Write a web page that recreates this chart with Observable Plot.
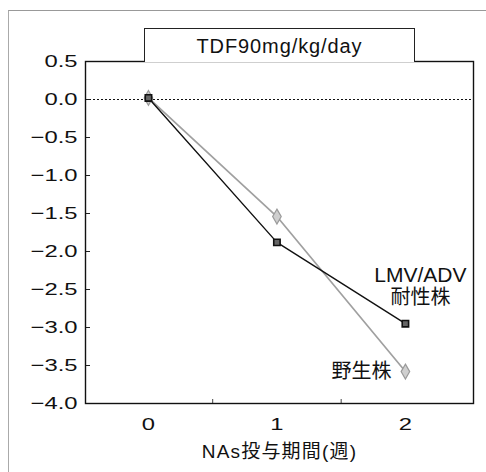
<!DOCTYPE html>
<html><head><meta charset="utf-8">
<script src="https://cdn.jsdelivr.net/npm/d3@7"></script>
<script src="https://cdn.jsdelivr.net/npm/@observablehq/plot@0.6"></script>
<style>
html,body{margin:0;padding:0;background:#fff;}
#wrap{position:relative;width:486px;height:472px;overflow:hidden;font-family:"Liberation Sans",Arial,sans-serif;}
#outer{position:absolute;left:8px;top:10px;width:490px;height:470px;border-top:1px solid #999;border-left:1px solid #aaa;}
#title{position:absolute;left:144px;top:28px;width:269px;height:33px;border:1px solid #222;border-bottom:none;text-align:center;line-height:34px;font-size:20px;letter-spacing:0.9px;color:#111;background:#fff;}
#chart{position:absolute;left:0;top:0;}
</style></head>
<body><div id="wrap"><div id="outer"></div><div id="chart"></div><div id="title"></div></div>
<script>
const titleText = "TDF90mg/kg/day";
const weeks = [0, 1, 2];
const resistant = [0.02, -1.88, -2.95];
const wild = [0.02, -1.54, -3.58];
const resistantLabel1 = "LMV/ADV";
const resistantLabel2 = "耐性株";
const wildLabel = "野生株";
const yTicks = [0.5, 0, -0.5, -1, -1.5, -2, -2.5, -3, -3.5, -4];
const xTicks = [0, 1, 2];
const xMinorTicks = [0.5, 1.5];
const xLabel = "NAs投与期間(週)";

document.getElementById("title").textContent = titleText;

const resData = weeks.map((w, i) => ({w, v: resistant[i]}));
const wildData = weeks.map((w, i) => ({w, v: wild[i]}));
const fmt = d => (d < 0 ? "\u2212" : "") + Math.abs(d).toFixed(1);
const cjk = "'Liberation Sans', 'Noto Sans CJK JP', sans-serif";

const chart = Plot.plot({
  width: 486, height: 472,
  marginLeft: 85, marginRight: 13, marginTop: 61, marginBottom: 69,
  style: {fontFamily: "'Liberation Sans', Arial, sans-serif", fontSize: "17px", background: "transparent"},
  x: {domain: [-0.49, 2.53]},
  y: {domain: [-4, 0.5]},
  marks: [
    Plot.ruleY([0], {stroke: "#111", strokeWidth: 1.2, strokeDasharray: "2,2"}),
    Plot.axisY({ticks: yTicks, tickSize: 0, tickPadding: 8, tickFormat: fmt, fill: "#111", label: null}),
    Plot.axisY({ticks: yTicks, tickSize: -5, tickFormat: () => "", stroke: "#222", label: null}),
    Plot.axisX({ticks: xTicks, tickSize: 0, tickPadding: 14, tickFormat: d => String(d), fill: "#111",
      label: xLabel, labelAnchor: "center", labelArrow: "none", labelOffset: 54}),
    Plot.axisX({ticks: xMinorTicks, tickSize: -4, tickFormat: () => "", stroke: "#444", label: null}),
    Plot.line(wildData, {x: "w", y: "v", stroke: "#a0a0a0", strokeWidth: 1.7}),
    Plot.line(resData, {x: "w", y: "v", stroke: "#111", strokeWidth: 1.4}),
    Plot.dot(wildData, {x: "w", y: "v", symbol: "diamond", r: 4.5, fill: "#cfcfcf", stroke: "#9a9a9a", strokeWidth: 1.2}),
    Plot.dot(resData, {x: "w", y: "v", symbol: "square", r: 3.6, fill: "#666", stroke: "#111", strokeWidth: 1.6}),
    Plot.text([resData[2]], {x: "w", y: "v", text: () => resistantLabel1, dx: 15, dy: -48, fontSize: 21, fill: "#111", fontFamily: cjk}),
    Plot.text([resData[2]], {x: "w", y: "v", text: () => resistantLabel2, dx: 15, dy: -26, fontSize: 20, fill: "#111", fontFamily: cjk}),
    Plot.text([wildData[2]], {x: "w", y: "v", text: () => wildLabel, dx: -14, dy: 0, textAnchor: "end", fontSize: 20, fill: "#111", fontFamily: cjk}),
    Plot.frame({stroke: "#111", strokeWidth: 1.4})
  ]
});
document.getElementById("chart").appendChild(chart);

// the original's tick digits are drawn in a wide face: stretch them about their anchor
chart.querySelectorAll("text").forEach(t => {
  const s = t.textContent;
  if (/^\u2212?\d(\.\d)?$/.test(s)) {
    const b = t.getBBox();
    const anchor = t.getAttribute("text-anchor") || getComputedStyle(t).textAnchor;
    const ax = anchor === "end" ? b.x + b.width : b.x + b.width / 2;
    const tr = t.getAttribute("transform") || "";
    t.setAttribute("transform", `${tr} translate(${ax},0) scale(1.4,1) translate(${-ax},0)`);
  } else if (s === xLabel) {
    t.setAttribute("font-size", 19);
    t.style.fontSize = "19px";
    t.setAttribute("letter-spacing", "1.2");
    t.setAttribute("font-family", cjk);
  }
});
</script></body></html>
